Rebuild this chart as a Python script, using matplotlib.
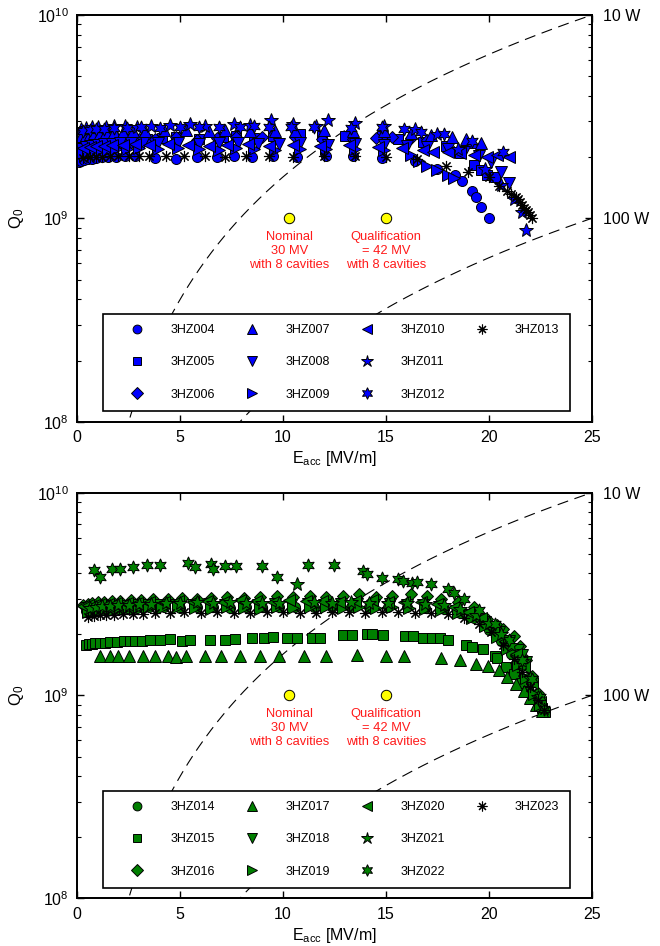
"""
Vertical test results of the 3.9 GHz cavities: Q0 versus Eacc,
with constant-loss lines and the module operating points.
"""

import numpy as np
import matplotlib
matplotlib.use('Agg')
import matplotlib.pyplot as plt
from matplotlib.lines import Line2D
from matplotlib.ticker import NullFormatter

plt.rcParams['font.family'] = ['Liberation Sans', 'DejaVu Sans']
plt.rcParams['mathtext.fontset'] = 'custom'
plt.rcParams['mathtext.rm'] = 'Liberation Sans'
plt.rcParams['mathtext.it'] = 'Liberation Sans:italic'
plt.rcParams['mathtext.bf'] = 'Liberation Sans:bold'

# ---------------------------------------------------------------------------
# Measured data, Eacc in MV/m and Q0 in units of 1e9
# ---------------------------------------------------------------------------

# 3HZ004 .. 3HZ013
E_004 = [0.1, 0.2, 0.35, 0.5, 0.7, 0.9, 1.2, 1.5, 1.9, 2.3, 2.8, 3.8, 4.8, 5.8, 6.8, 7.6,
         8.5, 9.5, 10.7, 12.1, 13.4, 14.8, 16.4, 17.5, 18.35, 18.7, 19.2, 19.4, 19.6, 20.0]
Q_004 = [1.90, 1.91, 1.93, 1.95, 1.97, 1.98, 2.00, 2.01, 2.01, 2.02, 2.02, 1.98, 1.96, 2.00,
         2.01, 2.02, 2.00, 2.02, 2.00, 2.02, 2.02, 1.98, 1.92, 1.75, 1.64, 1.53, 1.36, 1.28,
         1.14, 1.00]

E_005 = [0.15, 0.25, 0.4, 0.55, 0.7, 0.9, 1.1, 1.4, 1.7, 2.0, 2.4, 2.9, 3.4, 4.1, 4.8, 5.9,
         7.1, 7.7, 8.6, 9.5, 10.8, 11.9, 13.0, 14.8, 15.6, 16.8, 17.9, 18.6, 19.3, 19.6, 19.9,
         20.3]
Q_005 = [2.10, 2.15, 2.18, 2.22, 2.25, 2.28, 2.30, 2.33, 2.35, 2.38, 2.40, 2.42, 2.45, 2.48,
         2.50, 2.45, 2.50, 2.55, 2.48, 2.55, 2.60, 2.55, 2.55, 2.55, 2.45, 2.38, 2.27, 2.10,
         1.83, 1.73, 1.64, 1.60]

E_006 = [0.2, 0.4, 0.6, 0.9, 1.2, 1.6, 2.0, 2.5, 3.0, 3.8, 4.8, 5.8, 6.8, 7.7, 9.0, 10.6,
         11.9, 13.4, 14.5, 15.3, 16.2, 17.0]
Q_006 = [2.30, 2.35, 2.38, 2.40, 2.42, 2.44, 2.45, 2.45, 2.47, 2.45, 2.50, 2.42, 2.48, 2.50,
         2.50, 2.50, 2.45, 2.45, 2.48, 2.50, 2.48, 2.43]

E_007 = [0.2, 0.4, 0.6, 0.8, 1.1, 1.4, 1.8, 2.2, 2.7, 3.3, 4.2, 5.3, 6.4, 7.2, 8.4, 9.6,
         10.6, 12.0, 13.4, 14.9, 16.2, 17.2, 18.2, 18.9, 19.2, 19.6]
Q_007 = [2.55, 2.58, 2.60, 2.62, 2.63, 2.65, 2.66, 2.66, 2.68, 2.70, 2.72, 2.72, 2.70, 2.72,
         2.70, 2.68, 2.70, 2.72, 2.70, 2.68, 2.62, 2.58, 2.52, 2.45, 2.38, 2.36]

E_008 = [0.2, 0.4, 0.7, 1.0, 1.3, 1.7, 2.1, 2.6, 3.2, 3.9, 4.9, 5.9, 6.9, 7.8, 8.8, 9.8,
         10.8, 12.2, 13.5, 14.9, 16.0, 17.0, 18.0, 18.8, 19.5, 20.1, 20.6, 21.0]
Q_008 = [2.20, 2.25, 2.28, 2.30, 2.32, 2.33, 2.35, 2.36, 2.36, 2.35, 2.35, 2.33, 2.36, 2.35,
         2.33, 2.32, 2.35, 2.30, 2.32, 2.30, 2.28, 2.25, 2.20, 2.12, 2.02, 1.90, 1.70, 1.50]

E_009 = [0.3, 0.5, 0.8, 1.1, 1.5, 1.9, 2.4, 3.0, 3.9, 4.9, 5.9, 6.9, 7.7, 8.6, 9.6, 10.8,
         12.1, 13.5, 14.9, 16.2, 16.6, 17.0, 17.5, 18.0, 18.3]
Q_009 = [2.10, 2.12, 2.15, 2.17, 2.18, 2.20, 2.20, 2.22, 2.20, 2.22, 2.20, 2.18, 2.22, 2.20,
         2.18, 2.20, 2.20, 2.20, 2.18, 2.05, 1.92, 1.80, 1.73, 1.64, 1.58]

E_010 = [0.3, 0.6, 0.9, 1.3, 1.7, 2.2, 2.8, 3.5, 4.4, 5.4, 6.4, 7.3, 8.3, 9.3, 10.5, 11.8,
         13.2, 14.6, 15.8, 16.8, 17.3, 18.0, 18.6, 19.3, 19.9, 20.4, 21.0]
Q_010 = [2.22, 2.25, 2.27, 2.28, 2.30, 2.30, 2.32, 2.30, 2.32, 2.30, 2.28, 2.30, 2.32, 2.28,
         2.30, 2.28, 2.30, 2.25, 2.22, 2.17, 2.13, 2.12, 2.10, 2.05, 2.00, 2.05, 2.00]

E_011 = [0.2, 0.4, 0.7, 1.0, 1.4, 1.8, 2.3, 2.9, 3.6, 4.5, 5.5, 6.2, 7.6, 8.4, 9.4, 10.5,
         11.6, 12.2, 13.5, 14.9, 16.4, 17.5, 18.5, 19.8, 20.6, 21.2, 21.6, 21.8]
Q_011 = [2.75, 2.78, 2.80, 2.82, 2.82, 2.85, 2.85, 2.82, 2.85, 2.88, 2.90, 2.85, 2.92, 2.88,
         3.05, 2.90, 2.85, 3.05, 2.95, 2.85, 2.75, 2.60, 2.20, 1.75, 1.46, 1.25, 1.08, 0.88]

E_012 = [0.3, 0.6, 0.9, 1.3, 1.8, 2.4, 3.1, 4.0, 5.0, 5.9, 6.9, 7.9, 8.6, 9.3, 10.4, 11.5,
         13.3, 14.8, 15.9, 16.7, 17.8, 19.2, 20.7]
Q_012 = [2.70, 2.72, 2.75, 2.75, 2.78, 2.78, 2.80, 2.78, 2.80, 2.82, 2.80, 2.82, 2.85, 2.80,
         2.80, 2.82, 2.78, 2.80, 2.75, 2.67, 2.60, 2.40, 2.13]

E_013 = [0.3, 0.6, 0.9, 1.2, 1.6, 2.0, 2.5, 3.0, 3.5, 4.3, 5.2, 6.2, 7.2, 8.2, 9.3, 10.5,
         12.0, 13.5, 15.0, 16.5, 17.9, 19.0, 20.0, 20.5, 20.9, 21.1, 21.3, 21.4, 21.5, 21.6,
         21.7, 21.8, 21.9, 22.0, 22.1]
Q_013 = [1.98, 2.00, 2.00, 2.01, 2.02, 2.02, 2.03, 2.02, 2.03, 2.02, 2.03, 2.02, 2.00, 2.02,
         2.03, 2.00, 2.02, 2.03, 2.00, 1.95, 1.80, 1.70, 1.60, 1.45, 1.36, 1.32, 1.27, 1.24,
         1.20, 1.17, 1.13, 1.10, 1.07, 1.04, 1.01]

# 3HZ014 .. 3HZ023
E_014 = [0.4, 0.6, 0.8, 1.0, 1.3, 1.6, 2.0, 2.4, 2.9, 3.5, 4.2, 5.0, 5.8, 6.6, 7.4, 8.2,
         9.0, 9.8, 10.6, 11.5, 12.4, 13.3, 14.2, 15.1, 16.0, 16.9, 17.8, 18.6, 19.3, 20.0,
         20.6, 21.1, 21.5, 21.9, 22.3, 22.6]
Q_014 = [2.62, 2.63, 2.65, 2.66, 2.66, 2.68, 2.68, 2.70, 2.70, 2.72, 2.72, 2.70, 2.73, 2.72,
         2.70, 2.73, 2.72, 2.72, 2.74, 2.73, 2.72, 2.74, 2.73, 2.72, 2.72, 2.70, 2.68, 2.55,
         2.40, 2.10, 1.85, 1.60, 1.42, 1.22, 1.02, 0.88]

E_015 = [0.4, 0.55, 0.7, 0.87, 1.1, 1.36, 1.6, 1.92, 2.25, 2.57, 2.82, 3.14, 3.54, 4.03,
         4.51, 5.08, 5.49, 6.46, 7.18, 7.67, 8.48, 9.05, 9.53, 10.18, 10.67, 11.4, 11.8,
         12.93, 13.33, 14.06, 14.3, 14.87, 15.92, 16.33, 16.81, 17.22, 17.62, 18.02, 18.9,
         19.2, 19.7, 20.3, 20.4, 20.85, 21.2, 21.6, 21.9, 22.2, 22.4, 22.6, 22.75]
Q_015 = [1.78, 1.79, 1.80, 1.81, 1.82, 1.82, 1.83, 1.84, 1.85, 1.85, 1.86, 1.86, 1.87, 1.88,
         1.89, 1.86, 1.87, 1.87, 1.88, 1.89, 1.91, 1.91, 1.95, 1.91, 1.91, 1.92, 1.92, 1.99,
         1.99, 2.00, 2.00, 1.99, 1.97, 1.97, 1.93, 1.93, 1.91, 1.87, 1.78, 1.73, 1.69, 1.57,
         1.53, 1.38, 1.27, 1.15, 1.05, 0.97, 0.92, 0.87, 0.83]

E_016 = [0.3, 0.5, 0.7, 1.0, 1.3, 1.7, 2.1, 2.6, 3.1, 3.7, 4.4, 5.1, 5.8, 6.5, 7.3, 8.1,
         8.9, 9.7, 10.5, 11.3, 12.1, 12.9, 13.7, 14.5, 15.3, 16.2, 17.0, 17.7, 18.5, 19.3,
         19.9, 20.4, 20.7, 21.2, 21.5, 21.8, 22.1, 22.4, 22.6]
Q_016 = [2.80, 2.82, 2.85, 2.88, 2.90, 2.92, 2.93, 2.95, 2.97, 2.98, 3.00, 3.02, 3.00, 3.03,
         3.05, 3.02, 3.05, 3.08, 3.05, 3.10, 3.05, 3.08, 3.15, 3.05, 3.10, 3.16, 3.08, 3.00,
         2.88, 2.72, 2.38, 2.22, 2.12, 1.97, 1.75, 1.50, 1.25, 1.03, 0.88]

E_017 = [1.1, 1.6, 2.0, 2.5, 3.2, 3.8, 4.4, 4.8, 5.3, 6.2, 7.0, 7.9, 8.9, 9.8, 11.0, 12.1,
         13.6, 15.0, 15.9, 17.7, 18.6, 19.4, 19.97, 20.5, 20.9, 21.3, 21.7, 22.0, 22.3, 22.6]
Q_017 = [1.57, 1.57, 1.57, 1.57, 1.57, 1.57, 1.56, 1.54, 1.56, 1.56, 1.56, 1.56, 1.56, 1.56,
         1.56, 1.57, 1.58, 1.57, 1.57, 1.53, 1.50, 1.43, 1.39, 1.33, 1.23, 1.14, 1.05, 0.97,
         0.90, 0.84]

E_018 = [0.4, 0.7, 1.0, 1.3, 1.7, 2.2, 2.7, 3.3, 4.0, 4.8, 5.6, 6.4, 7.2, 8.0, 8.8, 9.6,
         10.4, 11.2, 12.0, 12.8, 13.6, 14.4, 15.2, 16.0, 16.8, 17.6, 18.4, 19.1, 19.8, 20.5,
         21.0, 21.4, 21.6, 21.8]
Q_018 = [2.70, 2.72, 2.74, 2.75, 2.76, 2.77, 2.78, 2.78, 2.80, 2.80, 2.78, 2.82, 2.80, 2.82,
         2.80, 2.82, 2.80, 2.83, 2.80, 2.82, 2.83, 2.80, 2.82, 2.80, 2.78, 2.72, 2.62, 2.50,
         2.30, 2.05, 1.85, 1.68, 1.58, 1.46]

E_019 = [0.5, 0.8, 1.1, 1.4, 1.8, 2.3, 2.8, 3.4, 4.1, 4.9, 5.7, 6.5, 7.3, 8.1, 8.9, 9.7,
         10.5, 11.3, 12.1, 12.9, 13.7, 14.5, 15.3, 16.1, 16.9, 17.7, 18.5, 19.2, 19.8, 20.4,
         20.9, 21.4, 21.8, 22.2, 22.5]
Q_019 = [2.58, 2.60, 2.62, 2.63, 2.65, 2.66, 2.68, 2.70, 2.70, 2.72, 2.70, 2.68, 2.72, 2.70,
         2.68, 2.72, 2.70, 2.72, 2.73, 2.70, 2.72, 2.70, 2.72, 2.70, 2.68, 2.65, 2.55, 2.40,
         2.20, 1.95, 1.70, 1.42, 1.22, 1.02, 0.90]

E_020 = [0.3, 0.5, 0.8, 1.1, 1.5, 1.9, 2.4, 2.9, 3.5, 4.2, 4.9, 5.6, 6.3, 7.1, 7.9, 8.7,
         9.5, 10.3, 11.1, 11.9, 12.7, 13.5, 14.3, 15.1, 15.9, 16.7, 17.5, 18.3, 19.0, 19.6,
         20.2, 20.8, 21.3, 21.7, 22.1, 22.5]
Q_020 = [2.75, 2.78, 2.80, 2.82, 2.83, 2.85, 2.86, 2.87, 2.88, 2.90, 2.92, 2.90, 2.93, 2.90,
         2.95, 2.92, 2.90, 2.95, 2.92, 2.93, 2.90, 2.92, 2.95, 2.90, 2.90, 2.88, 2.82, 2.72,
         2.58, 2.40, 2.15, 1.85, 1.60, 1.38, 1.15, 0.93]

E_021 = [0.6, 0.9, 1.2, 1.6, 2.0, 2.5, 3.0, 3.6, 4.3, 5.0, 5.8, 6.6, 7.4, 8.2, 9.0, 9.8,
         10.7, 11.5, 12.4, 13.3, 14.2, 15.1, 16.0, 16.9, 17.8, 18.6, 19.4, 20.0, 20.6, 21.1,
         21.6, 22.0, 22.4]
Q_021 = [2.70, 2.72, 2.75, 2.76, 2.78, 2.80, 2.82, 2.83, 2.85, 2.85, 2.88, 2.85, 2.88, 2.85,
         2.87, 2.85, 3.53, 2.88, 2.85, 2.88, 2.85, 2.87, 2.85, 2.82, 2.78, 2.68, 2.50, 2.28,
         2.02, 1.78, 1.48, 1.22, 0.98]

E_022 = [0.8, 1.1, 1.7, 2.1, 2.7, 3.4, 4.0, 5.4, 5.7, 6.5, 6.6, 7.2, 7.7, 9.0, 9.7, 11.2,
         12.5, 13.9, 14.06, 14.8, 15.6, 15.85, 16.25, 16.5, 17.2, 18.0, 18.3, 18.8, 19.5,
         20.3, 21.0, 21.6, 22.1, 22.5, 22.7]
Q_022 = [4.14, 3.82, 4.20, 4.22, 4.30, 4.40, 4.40, 4.50, 4.30, 4.45, 4.20, 4.35, 4.35, 4.35,
         3.84, 4.40, 4.40, 4.10, 3.98, 3.81, 3.74, 3.67, 3.60, 3.64, 3.53, 3.34, 3.21, 2.98,
         2.65, 2.25, 1.88, 1.50, 1.20, 0.98, 0.86]

E_023 = [0.5, 0.8, 1.1, 1.4, 1.8, 2.2, 2.7, 3.2, 3.8, 4.5, 5.2, 6.0, 6.8, 7.6, 8.4, 9.2,
         10.0, 10.8, 11.6, 12.4, 13.2, 14.0, 14.8, 15.6, 16.4, 17.2, 18.0, 18.8, 19.5, 20.1,
         20.7, 21.2, 21.6, 22.0, 22.4, 22.7]
Q_023 = [2.45, 2.47, 2.48, 2.50, 2.50, 2.52, 2.52, 2.53, 2.55, 2.55, 2.57, 2.55, 2.58, 2.56,
         2.55, 2.57, 2.58, 2.56, 2.55, 2.58, 2.57, 2.55, 2.58, 2.57, 2.56, 2.55, 2.52, 2.42,
         2.25, 2.05, 1.78, 1.52, 1.30, 1.10, 0.95, 0.85]

TOP_NAMES = ['3HZ004', '3HZ005', '3HZ006', '3HZ007', '3HZ008',
             '3HZ009', '3HZ010', '3HZ011', '3HZ012', '3HZ013']
TOP_E = [E_004, E_005, E_006, E_007, E_008, E_009, E_010, E_011, E_012, E_013]
TOP_Q = [Q_004, Q_005, Q_006, Q_007, Q_008, Q_009, Q_010, Q_011, Q_012, Q_013]

BOTTOM_NAMES = ['3HZ014', '3HZ015', '3HZ016', '3HZ017', '3HZ018',
                '3HZ019', '3HZ020', '3HZ021', '3HZ022', '3HZ023']
BOTTOM_E = [E_014, E_015, E_016, E_017, E_018, E_019, E_020, E_021, E_022, E_023]
BOTTOM_Q = [Q_014, Q_015, Q_016, Q_017, Q_018, Q_019, Q_020, Q_021, Q_022, Q_023]

# operating points of the module (8 cavities)
DESIGN_E = [10.3, 15.0]
DESIGN_Q = [1.0, 1.0]
DESIGN_TEXT = ['Nominal\n30 MV\nwith 8 cavities',
               'Qualification\n= 42 MV\nwith 8 cavities']

# constant dissipated power lines, Q0 = K * Eacc^2 / P
LOSS_W = [10, 100]
LOSS_K = 1.6e8          # Q0 * P / Eacc^2  [W / (MV/m)^2]

# marker shape and size for the n-th cavity of a batch
MARKERS = [('o', 7.2), ('s', 6.6), ('D', 6.4), ('^', 8.0), ('v', 8.0),
           ('>', 8.0), ('<', 8.0), ('*', 10.5), ((6, 1, 0), 9.5), ((8, 2, 0), 8.0)]

FS_TICK = 11.5
FS_LEGEND = 9


def draw_panel(ax, names, e_lists, q_lists, face):
    """Draw one batch of cavities on a log Q0 axis."""
    ax.set_yscale('log')
    ax.set_xlim(0, 25)
    ax.set_ylim(1e8, 1e10)

    # constant-loss lines
    e_line = np.linspace(0.01, 25, 400)
    for p in LOSS_W:
        ax.plot(e_line, LOSS_K * e_line ** 2 / p, color='k', lw=0.8,
                dashes=(10, 6), zorder=1)

    handles = []
    for (marker, ms), name, e, q in zip(MARKERS, names, e_lists, q_lists):
        is_line_marker = isinstance(marker, tuple) and marker[1] == 2
        style = dict(ls='none', marker=marker, mfc=face, mec='k',
                     mew=0.8 if is_line_marker else 0.7)
        ax.plot(e, np.array(q) * 1e9, ms=ms, zorder=3, **style)
        handles.append(Line2D([], [], ms=ms * 0.88, label=name, **style))

    # fill the last legend column so entries run 3 per column
    for _ in range(2):
        handles.append(Line2D([], [], ls='none', marker='none', label=''))

    # operating points
    ax.plot(DESIGN_E, np.array(DESIGN_Q) * 1e9, ls='none', marker='o', ms=7.5,
            mfc='#ffff00', mec='k', mew=0.7, zorder=4)
    for e, q, txt in zip(DESIGN_E, DESIGN_Q, DESIGN_TEXT):
        ax.annotate(txt, (e, q * 1e9), xytext=(0, -9), textcoords='offset points',
                    ha='center', va='top', color='#ff1a1a', fontsize=9.3,
                    linespacing=1.25)

    leg = ax.legend(handles=handles, labels=[h.get_label() for h in handles],
                    ncol=4, mode='expand', loc='upper left',
                    bbox_to_anchor=(0.0506, 0.0197, 0.9066, 0.2453),
                    fontsize=FS_LEGEND, frameon=True, fancybox=False,
                    framealpha=1, edgecolor='k', borderpad=0.82,
                    labelspacing=1.62, handlelength=3.74, handletextpad=0.8,
                    borderaxespad=0)
    leg.get_frame().set_linewidth(1.2)

    ax.set_xticks([0, 5, 10, 15, 20, 25])
    ax.tick_params(axis='x', which='both', direction='in', top=True,
                   length=5, width=1, labelsize=FS_TICK, pad=6)
    ax.tick_params(axis='y', which='major', direction='in', right=False,
                   length=5, width=1, labelsize=FS_TICK, pad=6)
    ax.tick_params(axis='y', which='minor', direction='in', right=False,
                   length=3, width=0.8)
    for sp in ax.spines.values():
        sp.set_linewidth(1.3)

    ax.set_xlabel(r'E$_{\mathrm{acc}}$ [MV/m]', fontsize=FS_TICK, labelpad=3)
    ax.set_ylabel(r'Q$_0$', fontsize=FS_TICK + 0.5, labelpad=8)

    # power scale on the right
    tw = ax.twinx()
    tw.set_yscale('log')
    tw.set_ylim(1e8, 1e10)
    tw.set_yticks([1e9, 1e10])
    tw.set_yticklabels(['100 W', '10 W'])
    tw.yaxis.set_minor_formatter(NullFormatter())
    tw.tick_params(axis='y', which='major', direction='in', length=5, width=1,
                   labelsize=FS_TICK, pad=8)
    tw.tick_params(axis='y', which='minor', direction='in', length=3, width=0.8)
    for sp in tw.spines.values():
        sp.set_linewidth(1.3)


fig = plt.figure(figsize=(6.6, 9.46), dpi=100, facecolor='white')
ax_top = fig.add_axes([0.1171, 0.5542, 0.7794, 0.4299])
ax_bot = fig.add_axes([0.1171, 0.0504, 0.7794, 0.4288])

draw_panel(ax_top, TOP_NAMES, TOP_E, TOP_Q, '#0000ff')
draw_panel(ax_bot, BOTTOM_NAMES, BOTTOM_E, BOTTOM_Q, '#007f00')

fig.savefig('out.png', dpi=100, facecolor='white')
